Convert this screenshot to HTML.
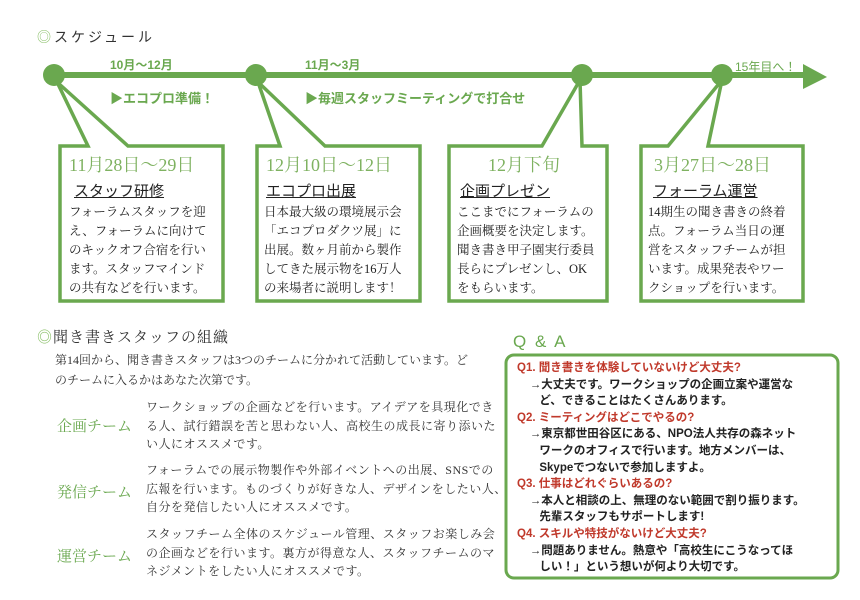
<!DOCTYPE html>
<html><head><meta charset="utf-8"><style>
body{margin:0;width:860px;height:600px;background:#fff;position:relative;overflow:hidden;font-family:"Liberation Sans","Noto Sans CJK JP",sans-serif;}
.a{position:absolute;white-space:nowrap;}
.g{color:#6aa84f;}
.serif{font-family:"Liberation Serif","Noto Serif CJK SC",serif;}
.date{font-family:"Liberation Serif","Noto Serif CJK SC",serif;color:#7fb261;font-size:18px;}
.ttl{font-size:15px;text-decoration:underline;color:#222;}
.body{font-size:12.5px;line-height:19px;color:#222;font-family:"Liberation Serif","Noto Serif CJK SC",serif;}
.desc{font-size:12px;line-height:18.5px;color:#333;font-family:"Liberation Serif","Noto Serif CJK SC",serif;letter-spacing:0.5px;}
.team{font-size:15px;color:#6aa84f;font-family:"Liberation Serif","Noto Serif CJK SC",serif;}
.qa{font-size:11.5px;line-height:16.6px;color:#222;font-weight:bold;}
.q{color:#c0392b;}
</style></head><body>
<svg class="a" style="left:0;top:0" width="860" height="600">
<g fill="#fff" stroke="#6aa84f" stroke-width="3.5">
<polygon points="57,82 88,146 60,146 60,301 223,301 223,146 128,146"/>
<polygon points="258,82 280,146 257,146 257,301 420,301 420,146 325,146"/>
<polygon points="580,80 542,146 449,146 449,301 607,301 607,146 582,146"/>
<polygon points="722,80 668,146 641,146 641,301 803,301 803,146 708,146"/>
</g>
<line x1="50" y1="75" x2="808" y2="75" stroke="#6aa84f" stroke-width="6"/>
<polygon points="803,64 827,77 803,89" fill="#6aa84f"/>
<g fill="#6aa84f"><circle cx="54" cy="75" r="11"/><circle cx="256" cy="75" r="11"/><circle cx="582" cy="75" r="11"/><circle cx="722" cy="75" r="11"/></g>
<rect x="506" y="355" width="332" height="223" rx="8" fill="none" stroke="#6aa84f" stroke-width="3"/>
</svg>
<div class="a" style="left:37px;top:27px;font-size:14px;color:#333;letter-spacing:3px"><span style="color:#8bc06a">◎</span>スケジュール</div>
<div class="a g" style="left:110px;top:56px;font-size:12px;font-weight:bold">10月～12月</div>
<div class="a g" style="left:110px;top:88px;font-size:13px;font-weight:bold">▶エコプロ準備！</div>
<div class="a g" style="left:305px;top:56px;font-size:12px;font-weight:bold">11月～3月</div>
<div class="a g" style="left:305px;top:88px;font-size:13px;font-weight:bold">▶毎週スタッフミーティングで打合せ</div>
<div class="a g" style="left:735px;top:58px;font-size:12px">15年目へ！</div>

<div class="a date" style="left:69px;top:151px">11月28日～29日</div>
<div class="a ttl" style="left:74px;top:180px">スタッフ研修</div>
<div class="a body" style="left:69px;top:203px">フォーラムスタッフを迎<br>え、フォーラムに向けて<br>のキックオフ合宿を行い<br>ます。スタッフマインド<br>の共有などを行います。</div>

<div class="a date" style="left:266px;top:151px">12月10日～12日</div>
<div class="a ttl" style="left:266px;top:180px">エコプロ出展</div>
<div class="a body" style="left:264px;top:203px">日本最大級の環境展示会<br>「エコプロダクツ展」に<br>出展。数ヶ月前から製作<br>してきた展示物を16万人<br>の来場者に説明します！</div>

<div class="a date" style="left:488px;top:151px">12月下旬</div>
<div class="a ttl" style="left:460px;top:180px">企画プレゼン</div>
<div class="a body" style="left:457px;top:203px">ここまでにフォーラムの<br>企画概要を決定します。<br>聞き書き甲子園実行委員<br>長らにプレゼンし、OK<br>をもらいます。</div>

<div class="a date" style="left:654px;top:151px">3月27日～28日</div>
<div class="a ttl" style="left:653px;top:180px">フォーラム運営</div>
<div class="a body" style="left:648px;top:203px">14期生の聞き書きの終着<br>点。フォーラム当日の運<br>営をスタッフチームが担<br>います。成果発表やワー<br>クショップを行います。</div>

<div class="a serif" style="left:37px;top:326px;font-size:15px;color:#333;letter-spacing:1px"><span style="color:#8bc06a">◎</span>聞き書きスタッフの組織</div>
<div class="a desc" style="left:55px;top:350px;line-height:20px;letter-spacing:0">第14回から、聞き書きスタッフは3つのチームに分かれて活動しています。ど<br>のチームに入るかはあなた次第です。</div>
<div class="a team" style="left:57px;top:415px">企画チーム</div>
<div class="a desc" style="left:146px;top:398px">ワークショップの企画などを行います。アイデアを具現化でき<br>る人、試行錯誤を苦と思わない人、高校生の成長に寄り添いた<br>い人にオススメです。</div>
<div class="a team" style="left:57px;top:481px">発信チーム</div>
<div class="a desc" style="left:146px;top:461px">フォーラムでの展示物製作や外部イベントへの出展、SNSでの<br>広報を行います。ものづくりが好きな人、デザインをしたい人、<br>自分を発信したい人にオススメです。</div>
<div class="a team" style="left:57px;top:545px">運営チーム</div>
<div class="a desc" style="left:146px;top:525px">スタッフチーム全体のスケジュール管理、スタッフお楽しみ会<br>の企画などを行います。裏方が得意な人、スタッフチームのマ<br>ネジメントをしたい人にオススメです。</div>

<div class="a g" style="left:513px;top:332px;font-size:17px;letter-spacing:2px">Q &amp; A</div>
<div class="a qa" style="left:517px;top:360px">
<span class="q">Q1. 聞き書きを体験していないけど大丈夫?</span><br>
&nbsp;&nbsp;&nbsp;&nbsp;→大丈夫です。ワークショップの企画立案や運営な<br>
&nbsp;&nbsp;&nbsp;&nbsp;&nbsp;&nbsp;&nbsp;ど、できることはたくさんあります。<br>
<span class="q">Q2. ミーティングはどこでやるの?</span><br>
&nbsp;&nbsp;&nbsp;&nbsp;→東京都世田谷区にある、NPO法人共存の森ネット<br>
&nbsp;&nbsp;&nbsp;&nbsp;&nbsp;&nbsp;&nbsp;ワークのオフィスで行います。地方メンバーは、<br>
&nbsp;&nbsp;&nbsp;&nbsp;&nbsp;&nbsp;&nbsp;Skypeでつないで参加しますよ。<br>
<span class="q">Q3. 仕事はどれぐらいあるの?</span><br>
&nbsp;&nbsp;&nbsp;&nbsp;→本人と相談の上、無理のない範囲で割り振ります。<br>
&nbsp;&nbsp;&nbsp;&nbsp;&nbsp;&nbsp;&nbsp;先輩スタッフもサポートします!<br>
<span class="q">Q4. スキルや特技がないけど大丈夫?</span><br>
&nbsp;&nbsp;&nbsp;&nbsp;→問題ありません。熱意や「高校生にこうなってほ<br>
&nbsp;&nbsp;&nbsp;&nbsp;&nbsp;&nbsp;&nbsp;しい！」という想いが何より大切です。
</div>
</body></html>
